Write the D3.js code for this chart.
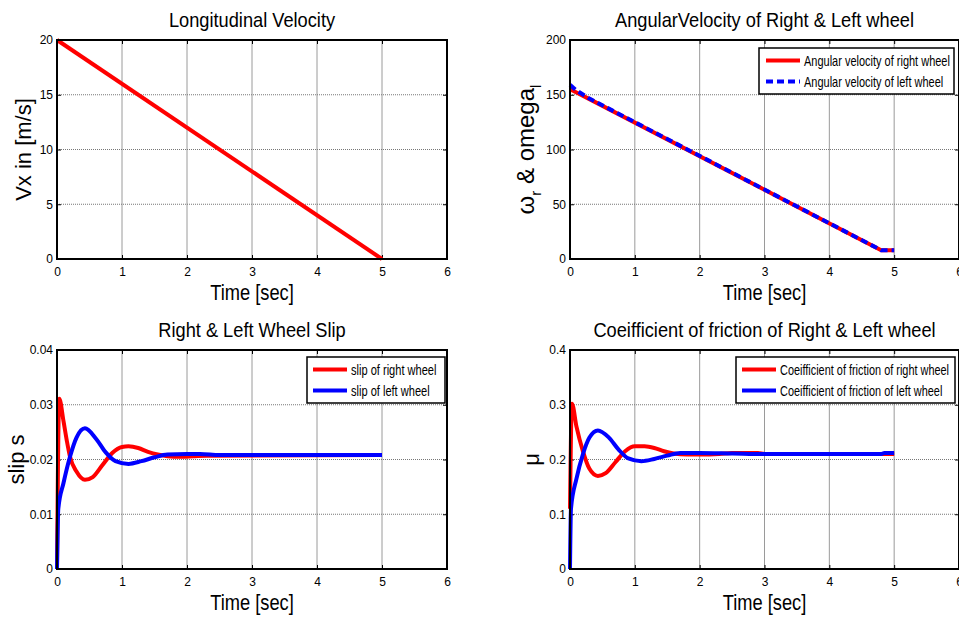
<!DOCTYPE html>
<html>
<head>
<meta charset="utf-8">
<script src="https://cdn.jsdelivr.net/npm/d3@7"></script>
<style>
  body { margin: 0; background: #fff; }
  svg { display: block; font-family: "Liberation Sans", Arial, sans-serif; }
</style>
</head>
<body>
<div id="chart"></div>
<script>
// values
var xTicks = [0, 1, 2, 3, 4, 5, 6];

var vxTime = [0, 5];
var vxValues = [20, 0];
var vxTicks = [0, 5, 10, 15, 20];

var omegaTime = [0, 0.1, 0.3, 4.8, 5];
var omegaRight = [155, 152, 146, 8, 8];
var omegaLeft = [159, 154, 146.5, 8, 8];
var omegaTicks = [0, 50, 100, 150, 200];

var slipRightTime = [0, 0.035, 0.1, 0.15, 0.2, 0.3, 0.43, 0.55, 0.7, 0.85, 1.0, 1.1, 1.25, 1.4, 1.55, 1.7, 1.9, 2.1, 2.3, 5];
var slipRight = [0, 0.0311, 0.027, 0.0235, 0.0205, 0.0178, 0.0163, 0.0168, 0.019, 0.0212, 0.0223, 0.0224, 0.0221, 0.0214, 0.0209, 0.0206, 0.0205, 0.0206, 0.0207, 0.0208];
var slipLeftTime = [0, 0.02, 0.1, 0.2, 0.3, 0.43, 0.6, 0.75, 0.9, 1.1, 1.3, 1.5, 1.7, 2.0, 2.2, 2.5, 5];
var slipLeft = [0, 0.011, 0.0157, 0.0205, 0.024, 0.0257, 0.0238, 0.0213, 0.0197, 0.0192, 0.0197, 0.0204, 0.0209, 0.021, 0.021, 0.0208, 0.0208];
var slipTicks = [0, 0.01, 0.02, 0.03, 0.04];

var muRightTime = [0, 0.03, 0.1, 0.2, 0.3, 0.43, 0.55, 0.7, 0.85, 1.0, 1.15, 1.3, 1.45, 1.6, 1.8, 2.0, 2.3, 2.5, 2.9, 3.0, 5];
var muRight = [0.11, 0.302, 0.26, 0.215, 0.183, 0.17, 0.175, 0.195, 0.215, 0.224, 0.224, 0.221, 0.215, 0.211, 0.209, 0.209, 0.21, 0.212, 0.212, 0.21, 0.21];
var muLeftTime = [0, 0.015, 0.1, 0.2, 0.3, 0.43, 0.6, 0.75, 0.9, 1.1, 1.3, 1.5, 1.7, 2.0, 2.5, 3.0, 4.8, 4.85, 5];
var muLeft = [0, 0.11, 0.165, 0.21, 0.24, 0.253, 0.24, 0.218, 0.202, 0.197, 0.201, 0.207, 0.212, 0.212, 0.211, 0.21, 0.21, 0.212, 0.212];
var muTicks = [0, 0.1, 0.2, 0.3, 0.4];

var W = 959, H = 622;
var svg = d3.select('#chart').append('svg')
    .attr('width', W)
    .attr('height', H);

function zip(xs, ys) {
    return xs.map(function(x, i) { return [x, ys[i]]; });
}

// the original uses a narrow font, so text is scaled down horizontally
function narrowText(parent, x, y, k, size, str, anchor) {
    return parent.append('text')
        .attr('transform', 'translate(' + x + ',' + y + ') scale(' + k + ',1)')
        .attr('text-anchor', anchor || 'start')
        .attr('font-size', size)
        .text(str);
}

function drawPanel(p) {
    var g = svg.append('g').attr('transform', 'translate(' + p.left + ',' + p.top + ')');
    var x = d3.scaleLinear().domain([0, 6]).range([0, p.width]);
    var y = d3.scaleLinear().domain(p.yDomain).range([p.height, 0]);

    // grid
    g.selectAll('.vgrid').data(xTicks.slice(1, -1)).enter().append('line')
        .attr('x1', x).attr('x2', x).attr('y1', 0).attr('y2', p.height)
        .attr('stroke', '#9a9a9a').attr('stroke-width', 1);
    g.selectAll('.hgrid').data(p.yTicks.slice(1, -1)).enter().append('line')
        .attr('x1', 0).attr('x2', p.width).attr('y1', y).attr('y2', y)
        .attr('stroke', '#777').attr('stroke-width', 1).attr('stroke-dasharray', '1,1');

    // axes, ticks inward like matlab
    var xb = g.append('g').attr('transform', 'translate(0,' + p.height + ')')
        .call(d3.axisBottom(x).tickValues(xTicks).tickSize(-4).tickPadding(8).tickFormat(d3.format('d')));
    var xt = g.append('g')
        .call(d3.axisTop(x).tickValues(xTicks).tickSize(-4).tickFormat(''));
    var yl = g.append('g')
        .call(d3.axisLeft(y).tickValues(p.yTicks).tickSize(-4).tickPadding(4).tickFormat(p.fmt));
    var yr = g.append('g').attr('transform', 'translate(' + p.width + ',0)')
        .call(d3.axisRight(y).tickValues(p.yTicks).tickSize(-4).tickFormat(''));
    [xb, xt, yl, yr].forEach(function(a) {
        a.select('.domain').remove();
        a.selectAll('line').attr('stroke', '#000');
        a.selectAll('text').attr('font-size', 12).attr('fill', '#000')
            .attr('font-family', '"Liberation Sans", Arial, sans-serif');
    });

    var line = d3.line().x(function(d) { return x(d[0]); }).y(function(d) { return y(d[1]); });
    p.series.forEach(function(s) {
        g.append('path').datum(zip(s.t, s.v))
            .attr('d', line.curve(s.linear ? d3.curveLinear : d3.curveMonotoneX))
            .attr('fill', 'none')
            .attr('stroke', s.color)
            .attr('stroke-width', 4)
            .attr('stroke-dasharray', s.dash || null)
            .attr('stroke-linejoin', 'round');
    });

    g.append('rect').attr('width', p.width).attr('height', p.height)
        .attr('fill', 'none').attr('stroke', '#000').attr('stroke-width', 2);

    // title and labels
    narrowText(g, p.width / 2, -13, 0.89, 20.5, p.title, 'middle');
    narrowText(g, p.width / 2, p.height + 41, 0.85, 21.5, 'Time [sec]', 'middle');
    var yt = g.append('text')
        .attr('transform', 'translate(' + p.yLabelX + ',' + (p.height / 2) + ') rotate(-90)')
        .attr('text-anchor', 'middle').attr('font-size', p.yLabelSize || 22);
    p.yLabel(yt);

    if (p.legend) {
        var lg = g.append('g').attr('transform', 'translate(' + p.legend.x + ',' + p.legend.y + ')');
        lg.append('rect').attr('width', p.legend.w).attr('height', 46)
            .attr('fill', '#fff').attr('stroke', '#000').attr('stroke-width', 1.5);
        p.series.forEach(function(s, i) {
            var ly = 12.5 + i * 21;
            lg.append('line').attr('x1', p.legend.lx).attr('x2', p.legend.lx + 34).attr('y1', ly).attr('y2', ly)
                .attr('stroke', s.color).attr('stroke-width', 4)
                .attr('stroke-dasharray', s.dash || null);
            narrowText(lg, p.legend.lx + 38, ly + 5, p.legend.k, 14, s.name);
        });
    }
}

drawPanel({
    left: 57, top: 40, width: 390, height: 219,
    yDomain: [0, 20], yTicks: vxTicks, fmt: d3.format('d'),
    title: 'Longitudinal Velocity',
    yLabelX: -26,
    yLabel: function(t) { t.text('Vx in [m/s]'); },
    series: [{ t: vxTime, v: vxValues, color: '#ff0000', linear: true }]
});

drawPanel({
    left: 570, top: 40, width: 389, height: 219,
    yDomain: [0, 200], yTicks: omegaTicks, fmt: d3.format('d'),
    title: 'AngularVelocity of Right & Left wheel',
    yLabelX: -36, yLabelSize: 24,
    yLabel: function(t) {
        t.append('tspan').text('\u03c9');
        t.append('tspan').attr('font-size', 15).attr('dy', 7).text('r');
        t.append('tspan').attr('dy', -7).text(' & omega');
        t.append('tspan').attr('font-size', 15).attr('dy', 7).text('l');
    },
    series: [
        { t: omegaTime, v: omegaRight, color: '#ff0000', linear: true, name: 'Angular velocity of right wheel' },
        { t: omegaTime, v: omegaLeft, color: '#0000ff', dash: '7,4', linear: true, name: 'Angular velocity of left wheel' }
    ],
    legend: { x: 189, y: 8, w: 195, lx: 7, k: 0.785 }
});

drawPanel({
    left: 57, top: 350, width: 390, height: 219,
    yDomain: [0, 0.04], yTicks: slipTicks, fmt: function(d) { return d === 0 ? '0' : d3.format('.2f')(d); },
    title: 'Right & Left Wheel Slip',
    yLabelX: -33,
    yLabel: function(t) { t.text('slip s'); },
    series: [
        { t: slipRightTime, v: slipRight, color: '#ff0000', name: 'slip of right wheel' },
        { t: slipLeftTime, v: slipLeft, color: '#0000ff', name: 'slip of left wheel' }
    ],
    legend: { x: 250, y: 7, w: 138, lx: 6, k: 0.79 }
});

drawPanel({
    left: 570, top: 350, width: 389, height: 219,
    yDomain: [0, 0.4], yTicks: muTicks, fmt: function(d) { return d === 0 ? '0' : d3.format('.1f')(d); },
    title: 'Coeifficient of friction of Right & Left wheel',
    yLabelX: -31,
    yLabel: function(t) { t.text('\u03bc'); },
    series: [
        { t: muRightTime, v: muRight, color: '#ff0000', name: 'Coeifficient of friction of right wheel' },
        { t: muLeftTime, v: muLeft, color: '#0000ff', name: 'Coeifficient of friction of left wheel' }
    ],
    legend: { x: 166, y: 7, w: 219, lx: 6, k: 0.78 }
});
</script>
</body>
</html>
